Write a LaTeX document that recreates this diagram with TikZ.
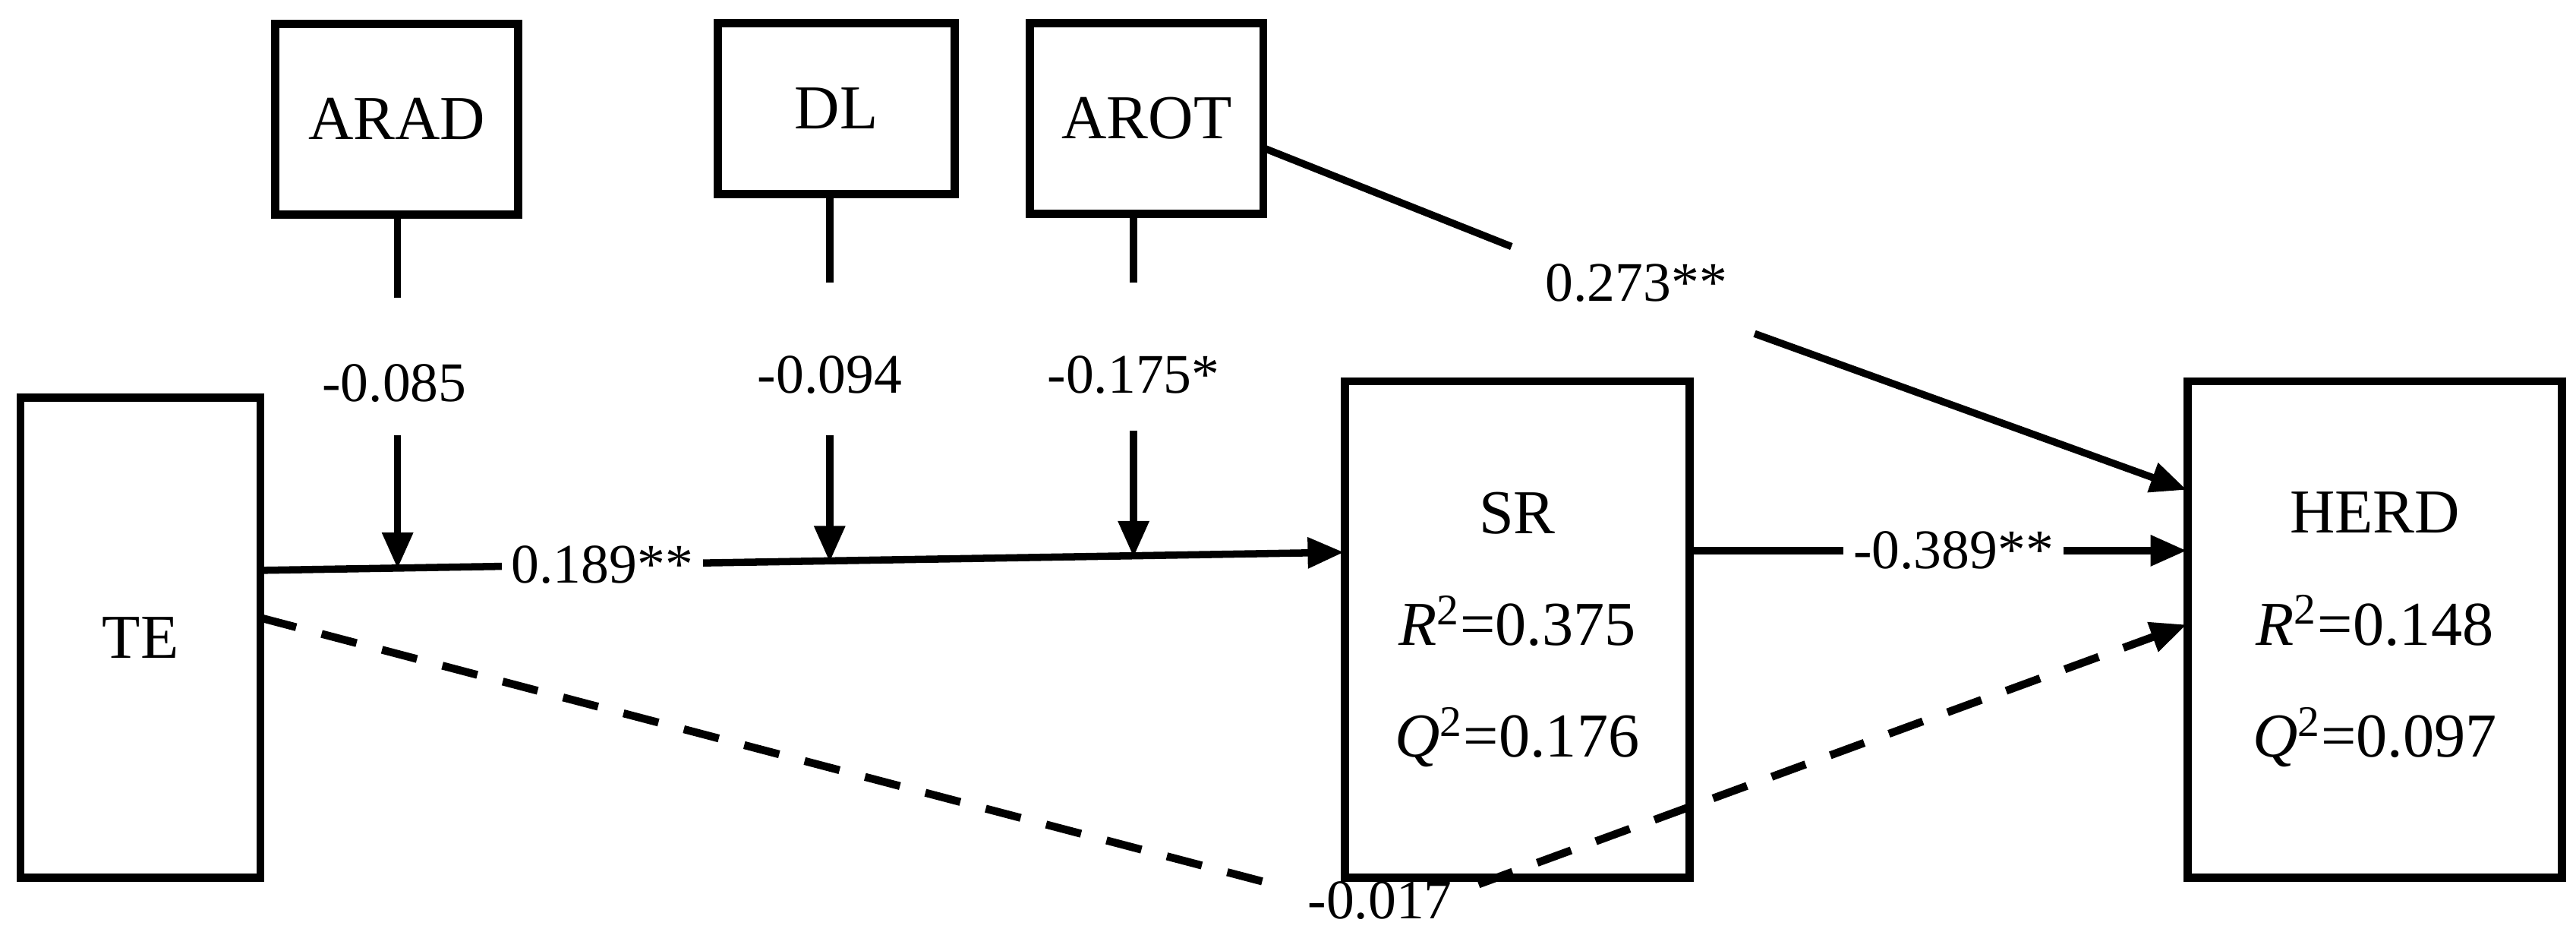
\documentclass[tikz,border=0pt]{standalone}
\usepackage{fontspec}
\setmainfont{Liberation Serif}
\usetikzlibrary{arrows.meta}
\begin{document}
\begin{tikzpicture}[x=0.5pt,y=-0.5pt,
 box/.style={draw,line width=2.5pt,inner sep=0pt,font=\fontsize{19}{34}\selectfont,align=center},
 lbl/.style={fill=white,inner sep=3pt,font=\fontsize{17}{18}\selectfont},
 txt/.style={font=\fontsize{17}{18}\selectfont},
 ln/.style={line width=2.2pt},
 arr/.style={ln,-{Triangle[length=11pt,width=9pt]}},
 dsh/.style={line width=2.4pt,dash pattern=on 11pt off 8pt}]
\useasboundingbox (0,0) rectangle (1568,567);
\node[box,minimum width=74pt,minimum height=58pt] (arad) at (241.5,72.5) {ARAD};
\node[box,minimum width=72pt,minimum height=52pt] (dl) at (509,66) {DL};
\node[box,minimum width=71pt,minimum height=58pt] (arot) at (698,72) {AROT};
\node[box,minimum width=73pt,minimum height=146pt] (te) at (85.5,388) {TE};
\node[box,minimum width=105pt,minimum height=151pt] (sr) at (923.5,383) {SR\\\textit{R}\textsuperscript{2}=0.375\\\textit{Q}\textsuperscript{2}=0.176};
\node[box,minimum width=114pt,minimum height=151pt] (herd) at (1445.5,383) {HERD\\\textit{R}\textsuperscript{2}=0.148\\\textit{Q}\textsuperscript{2}=0.097};
% main path
\coordinate (t1) at (159,347);
\coordinate (s1) at (818,336);
\draw[arr] (t1) -- node[lbl,pos=0.315] (l189) {0.189**} (s1);
% moderators
\coordinate (a1) at (242,131); \coordinate (a2) at (242,181);
\coordinate (a3) at (242,265); \coordinate (a4) at (242,346);
\draw[ln] (a1) -- (a2);
\node[txt] (l085) at (240,233) {-0.085};
\draw[arr] (a3) -- (a4);
\coordinate (d1) at (505,118); \coordinate (d2) at (505,172);
\coordinate (d3) at (505,265); \coordinate (d4) at (505,342);
\draw[ln] (d1) -- (d2);
\node[txt] (l094) at (505,228) {-0.094};
\draw[arr] (d3) -- (d4);
\coordinate (r1) at (690,130); \coordinate (r2) at (690,172);
\coordinate (r3) at (690,262); \coordinate (r4) at (690,339);
\draw[ln] (r1) -- (r2);
\node[txt] (l175) at (690,228) {-0.175*};
\draw[arr] (r3) -- (r4);
% AROT -> HERD
\coordinate (o1) at (769,90); \coordinate (o2) at (920,150);
\coordinate (o3) at (1068,203); \coordinate (h1) at (1331,298);
\draw[ln] (o1) -- (o2);
\node[txt] (l273) at (996,172) {0.273**};
\draw[arr] (o3) -- (h1);
% SR -> HERD
\coordinate (s2) at (1029,335); \coordinate (h2) at (1331,335);
\draw[arr] (s2) -- node[lbl,pos=0.53] (l389) {-0.389**} (h2);
% dashed
\coordinate (t2) at (159,376); \coordinate (m1) at (775,538);
\coordinate (m2) at (900,538); \coordinate (h3) at (1331,380);
\draw[dsh] (t2) -- (m1);
\node[txt] (l017) at (840,548) {-0.017};
\draw[dsh,-{Triangle[length=11pt,width=9pt]}] (m2) -- (h3);
\end{tikzpicture}
\end{document}
